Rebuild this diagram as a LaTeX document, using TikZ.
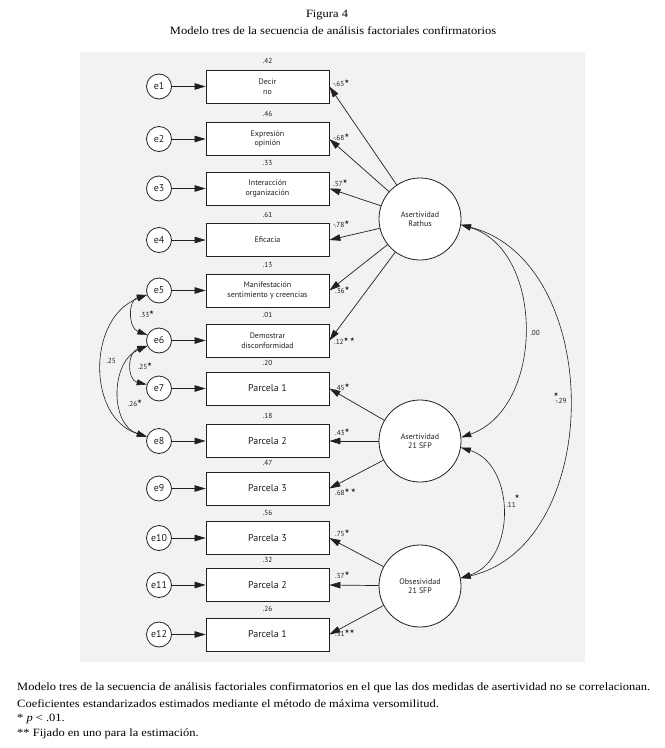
\documentclass[tikz,border=0pt]{standalone}
\usepackage{graphicx}
\usepackage{fontspec}
\setmainfont{Liberation Serif}
\newfontfamily\dsans{PT Sans}
\newfontfamily\symf{DejaVu Sans}
\usetikzlibrary{arrows.meta}
\newcommand\sst{\raisebox{2.4bp}{\fontsize{5.6}{5.6}\selectfont\symf ★}}
\newcommand\wide[1]{\scalebox{1.12}[1]{#1}}
\definecolor{bggray}{RGB}{242,242,242}
\definecolor{ink}{RGB}{35,31,32}
\begin{document}
\begin{tikzpicture}[x=1bp,y=-1bp,
 every node/.style={font=\dsans\fontsize{8}{9.5}\selectfont, text=ink},
 err/.style={circle,draw=ink,line width=0.8bp,fill=white,minimum size=25bp,inner sep=0pt,font=\dsans\fontsize{10}{10}\selectfont},
 obsv/.style={rectangle,draw=ink,line width=0.8bp,fill=white,minimum width=123bp,minimum height=33bp,inner sep=0pt,align=center},
 big/.style={font=\dsans\fontsize{10}{10}\selectfont},
 lat/.style={circle,draw=ink,line width=0.8bp,fill=white,minimum size=82bp,inner sep=0pt,align=center},
 ar/.style={draw=ink,-{Triangle[length=11bp,width=6.5bp]}, line width=0.7bp},
 dar/.style={draw=ink,{Triangle[length=10bp,width=6bp]}-{Triangle[length=10bp,width=6bp]}, line width=0.6bp},
 num/.style={font=\dsans\fontsize{7.3}{7.3}\selectfont, inner sep=0pt},
 captxt/.style={font=\fontsize{11.2}{11.2}\selectfont, text=black, inner sep=0pt},
]
\useasboundingbox (0,0) rectangle (665,748);
\fill[white] (0,0) rectangle (665,748);
\fill[bggray] (80,52) rectangle (585,662);

% title
\node[captxt] (t1) at (327,15) {\wide{Figura 4}};
\node[captxt] (t2) at (333,31) {\wide{Modelo tres de la secuencia de análisis factoriales confirmatorios}};

% observed boxes
\node[obsv] (b1) at (267.5,86.5) {Decir\\no};
\node[obsv] (b2) at (267.5,139) {Expresión\\opinión};
\node[obsv] (b3) at (267.5,188.5) {Interacción\\organización};
\node[obsv] (b4) at (267.5,240) {Eficacia};
\node[obsv] (b5) at (267.5,290.5) {Manifestación\\sentimiento y creencias};
\node[obsv] (b6) at (267.5,340.5) {Demostrar\\disconformidad};
\node[obsv,big] (b7) at (267.5,388.5) {Parcela 1};
\node[obsv,big] (b8) at (267.5,441) {Parcela 2};
\node[obsv,big] (b9) at (267.5,488.5) {Parcela 3};
\node[obsv,big] (b10) at (267.5,538) {Parcela 3};
\node[obsv,big] (b11) at (267.5,585) {Parcela 2};
\node[obsv,big] (b12) at (267.5,634.5) {Parcela 1};

% R2 labels
\foreach \i/\v in {1/.42,2/.46,3/.33,4/.61,5/.13,6/.01,7/.20,8/.18,9/.47,10/.56,11/.32,12/.26}
  \node[num,above=5.5bp] (r\i) at (b\i.north) {\v};

% error circles and arrows
\foreach \i in {1,...,12} {
  \node[err] (e\i) at (159,0 |- b\i) {e\i};
  \draw[ar] (e\i) -- (b\i);
}

% latent variables
\node[lat] (rat) at (420,219) {Asertividad\\Rathus};
\node[lat] (sfp) at (420,441) {Asertividad\\21 SFP};
\node[lat] (obs) at (420,586) {Obsesividad\\21 SFP};

% loadings
\foreach \i in {1,...,6} \draw[ar] (rat) -- (b\i.east);
\foreach \i in {7,8,9} \draw[ar] (sfp) -- (b\i.east);
\foreach \i in {10,11,12} \draw[ar] (obs) -- (b\i.east);

% loading labels
\node[num,anchor=west] (l1) at (333,83) {-.65\sst};
\node[num,anchor=west] (l2) at (333,137) {-.68\sst};
\node[num,anchor=west] (l3) at (333,183) {.57\sst};
\node[num,anchor=west] (l4) at (333,224) {-.78\sst};
\node[num,anchor=west] (l5) at (335,290) {.36\sst};
\node[num,anchor=west] (l6) at (334,341) {.12\sst\,\sst};
\node[num,anchor=west] (l7) at (335,387) {.45\sst};
\node[num,anchor=west] (l8) at (335,432) {.43\sst};
\node[num,anchor=west] (l9) at (335,492) {.68\sst\,\sst};
\node[num,anchor=west] (l10) at (335,533) {.75\sst};
\node[num,anchor=west] (l11) at (335,575) {.57\sst};
\node[num,anchor=west] (l12) at (335,633) {.51\sst\sst};

% latent covariances
\coordinate (ra) at (rat.-8);
\coordinate (sa) at (sfp.5);
\coordinate (sb) at (sfp.-9);
\coordinate (oa) at (obs.11);
\draw[dar] (ra) .. controls (545,250) and (545,408) .. (sa);
\draw[dar] (ra) .. controls (605,262) and (605,545) .. (oa);
\draw[dar] (sb) .. controls (516,465) and (516,560) .. (oa);
\node[num] (c1) at (535,333) {.00};
\node[num] (c2) at (561,401) {-.29};
\node[num] (c2s) at (556,394) {\fontsize{5.6}{5.6}\selectfont\symf ★};
\node[num] (c3) at (511,505) {.11};
\node[num] (c3s) at (517,496) {\fontsize{5.6}{5.6}\selectfont\symf ★};

% error covariances
\coordinate (e5a) at (e5.200);
\coordinate (e6a) at (e6.154);
\coordinate (e6b) at (e6.205);
\coordinate (e7a) at (e7.162);
\coordinate (e8a) at (e8.160);
\draw[dar] (e5a) .. controls (128,300) and (128,328) .. (e6a);
\draw[dar] (e6b) .. controls (127,352) and (127,380) .. (e7a);
\draw[dar] (e6b) .. controls (110,362) and (110,425) .. (e8a);
\draw[dar] (e5a) .. controls (87,318) and (87,418) .. (e8a);
\node[num] (k1) at (147,314) {.33\sst};
\node[num] (k2) at (145,366) {.25\sst};
\node[num] (k3) at (135,403) {.26\sst};
\node[num] (k4) at (111,361) {.25};

% caption
\node[captxt,anchor=west] (n1) at (17,688) {\wide{Modelo tres de la secuencia de análisis factoriales confirmatorios en el que las dos medidas de asertividad no se correlacionan.}};
\node[captxt,anchor=west] (n2) at (17,704) {\wide{Coeficientes estandarizados estimados mediante el método de máxima versomilitud.}};
\node[captxt,anchor=west] (n3) at (17,719) {\wide{* \textit{p} < .01.}};
\node[captxt,anchor=west] (n4) at (17,734) {\wide{** Fijado en uno para la estimación.}};
\end{tikzpicture}
\end{document}
